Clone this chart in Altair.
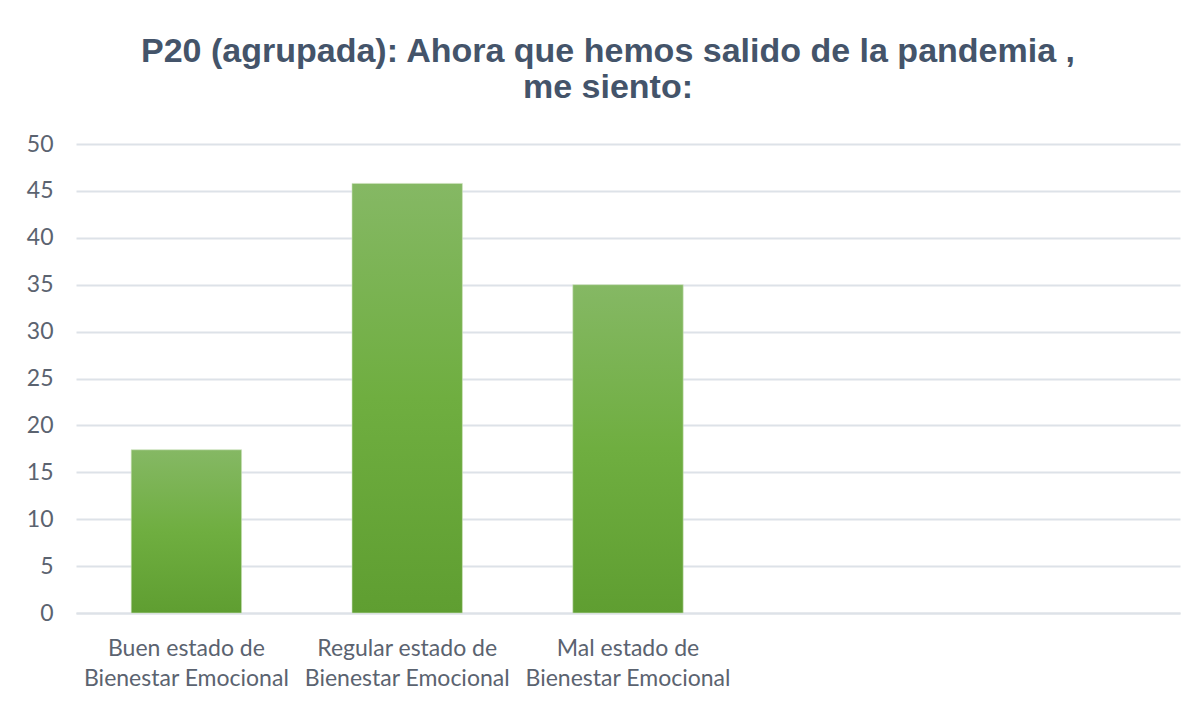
import altair as alt
import pandas as pd

title_lines = ["P20 (agrupada): Ahora que hemos salido de la pandemia ,", "me siento:"]
categories = [
    "Buen estado de|Bienestar Emocional",
    "Regular estado de|Bienestar Emocional",
    "Mal estado de|Bienestar Emocional",
]
values = [17.4, 45.8, 35.0]
empty_slots = ["_a", "_b"]
y_ticks = [0, 5, 10, 15, 20, 25, 30, 35, 40, 45, 50]

df = pd.DataFrame({"cat": categories, "val": values})

grad = alt.Gradient(
    gradient="linear",
    stops=[alt.GradientStop(color="#85b864", offset=0),
           alt.GradientStop(color="#6fae40", offset=0.5),
           alt.GradientStop(color="#5f9e31", offset=1)],
    x1=0, x2=0, y1=0, y2=1,
)

chart = alt.Chart(df).mark_bar(color=grad, stroke="#cfe3c0", strokeWidth=0.6).encode(
    x=alt.X("cat:N",
            scale=alt.Scale(domain=categories + empty_slots, paddingInner=0.5, paddingOuter=0.25),
            axis=alt.Axis(title=None, labelAngle=0, ticks=False, domain=True,
                          domainColor="#dde2e8", domainWidth=2, labelLimit=400,
                          labelExpr="indexof(datum.label, '_') == 0 ? '' : split(datum.label, '|')",
                          labelFont="Lato", labelFontSize=23, labelColor="#5b6370",
                          labelLineHeight=30, labelPadding=24)),
    y=alt.Y("val:Q",
            scale=alt.Scale(domain=[0, 50]),
            axis=alt.Axis(title=None, values=y_ticks, ticks=False, domain=False,
                          grid=True, gridColor="#dde2e8", gridWidth=2,
                          labelFont="Lato", labelFontSize=23, labelColor="#5b6370",
                          labelPadding=23)),
).properties(
    width=1104, height=469,
    background="white",
    title=alt.TitleParams(text=title_lines, font="Liberation Sans", fontSize=34,
                          fontWeight="bold", color="#44546a", anchor="middle",
                          offset=28, dx=-20, lineHeight=36),
    autosize=alt.AutoSizeParams(type="none"),
    padding={"left": 68, "top": 136, "right": 10, "bottom": 80},
).configure_view(strokeWidth=0, stroke=None)

chart.save("out.html", embed_options={"renderer": "svg", "actions": False})
